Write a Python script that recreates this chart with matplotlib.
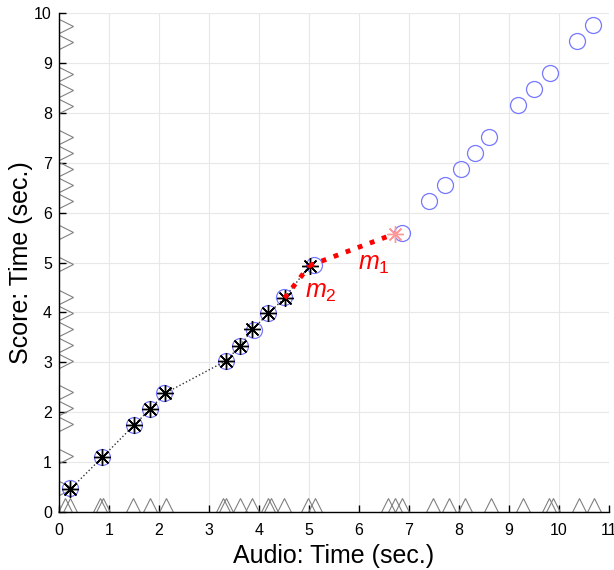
import numpy as np
import matplotlib
matplotlib.use("Agg")
import matplotlib.pyplot as plt
import matplotlib.transforms as mtransforms

plt.rcParams['font.family'] = ['Liberation Sans', 'DejaVu Sans']
plt.rcParams['mathtext.fontset'] = 'custom'
plt.rcParams['mathtext.it'] = 'Liberation Sans:italic'
plt.rcParams['mathtext.rm'] = 'Liberation Sans'

# -------------------
# DATA
# -------------------

# onsets found in the audio (x axis triangles)
audio_onsets = [0.12, 0.22, 0.82, 0.88, 1.48, 1.82, 2.14, 3.28, 3.35, 3.63,
                3.87, 4.19, 4.25, 4.49, 4.98, 5.12, 6.58, 6.72, 6.86, 7.47,
                7.79, 8.12, 8.63, 9.27, 9.80, 9.88, 10.40, 10.69]

# onsets in the score (y axis triangles)
score_onsets = [0.48, 1.12, 1.76, 2.08, 2.40, 3.03, 3.35, 3.67, 3.99, 4.31,
                4.97, 5.61, 6.23, 6.55, 6.87, 7.19, 7.51, 8.14, 8.46, 8.78,
                9.42, 9.74]

# candidate matches (blue circles)
match_audio = [0.22, 0.86, 1.50, 1.82, 2.10, 3.34, 3.62, 3.90, 4.18, 4.50,
               5.10, 6.86, 7.40, 7.72, 8.04, 8.32, 8.60, 9.18, 9.50, 9.82,
               10.36, 10.68]
match_score = [0.48, 1.10, 1.74, 2.06, 2.38, 3.03, 3.33, 3.65, 3.99, 4.31,
               4.95, 5.59, 6.23, 6.55, 6.87, 7.19, 7.51, 8.16, 8.48, 8.80,
               9.44, 9.76]

# alignment path so far (black stars)
path_audio = [0.23, 0.87, 1.50, 1.82, 2.12, 3.34, 3.62, 3.87, 4.19, 4.51, 5.01]
path_score = [0.46, 1.10, 1.74, 2.06, 2.38, 3.03, 3.33, 3.66, 3.98, 4.29, 4.94]

# candidate next point and slopes
next_audio = 6.72
next_score = 5.58
m2_audio = [4.51, 5.01]
m2_score = [4.29, 4.94]
m1_audio = [5.01, 6.72]
m1_score = [4.94, 5.58]

# -------------------
# PLOT
# -------------------

fig = plt.figure(figsize=(6.14, 5.70), dpi=100)
ax = fig.add_axes([0.096, 0.1018, 0.896, 0.875])

tri_ms = 10
up = ax.transData + mtransforms.ScaledTranslation(0, tri_ms / 2 / 72, fig.dpi_scale_trans)
right = ax.transData + mtransforms.ScaledTranslation(tri_ms / 2 / 72, 0, fig.dpi_scale_trans)

ax.plot(audio_onsets, np.zeros(len(audio_onsets)), '^', ms=tri_ms,
        mfc='none', mec='#808080', mew=0.8, clip_on=False, zorder=2,
        transform=up)
ax.plot(np.zeros(len(score_onsets)), score_onsets, '>', ms=tri_ms,
        mfc='none', mec='#808080', mew=0.8, clip_on=False, zorder=2,
        transform=right)

ax.plot(match_audio, match_score, 'o', ms=11.5, mfc='none',
        mec='#7777ff', mew=0.9, zorder=3)

ax.plot(path_audio, path_score, ':', color='#333333', lw=1.0, zorder=3)
ax.plot(path_audio, path_score, ls='none', marker=(8, 2, 0), ms=12,
        mec='black', mew=1.0, zorder=4)
ax.plot(path_audio, path_score, '.', color='black', ms=4, zorder=4)

ax.plot(m2_audio, m2_score, ':', color='red', lw=3.5, zorder=5)
ax.plot(m1_audio, m1_score, ':', color='red', lw=3.5, zorder=5)
ax.plot([next_audio], [next_score], ls='none', marker=(8, 2, 0), ms=12,
        mec='#ff9999', mew=1.0, zorder=5)

ax.text(5.97, 4.97, r'$m_1$', color='red', fontsize=18, ha='left', va='center')
ax.text(4.92, 4.42, r'$m_2$', color='red', fontsize=18, ha='left', va='center')

ax.set_xlim(0, 11)
ax.set_ylim(0, 10)
ax.set_xticks(range(0, 12))
ax.set_yticks(range(0, 11))
ax.tick_params(direction='in', length=5, labelsize=11.5, width=1)
ax.tick_params(axis='x', pad=8)
ax.tick_params(axis='y', pad=5)
for s in ['left', 'bottom']:
    ax.spines[s].set_linewidth(1.0)
ax.spines['top'].set_visible(False)
ax.spines['right'].set_visible(False)
ax.grid(True, color='#e8e8e8', lw=0.8)
ax.set_axisbelow(True)

ax.set_xlabel("Audio: Time (sec.)", fontsize=18, labelpad=4)
ax.set_ylabel("Score: Time (sec.)", fontsize=18, labelpad=1)

plt.savefig("out.png", dpi=100)
